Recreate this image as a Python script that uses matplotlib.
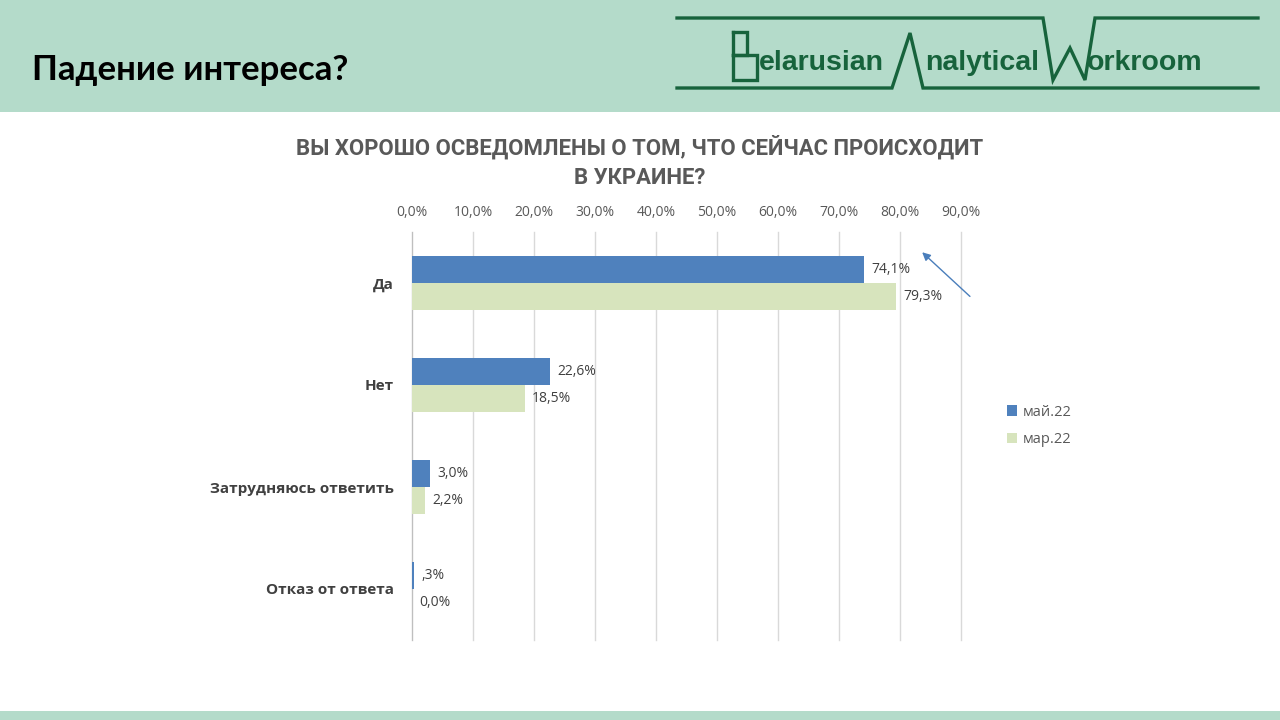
import matplotlib.pyplot as plt
from matplotlib.patches import Rectangle
from matplotlib.lines import Line2D
import numpy as np

categories = ['Да', 'Нет', 'Затрудняюсь ответить', 'Отказ от ответа']
may22 = [0.741, 0.226, 0.030, 0.003]
mar22 = [0.793, 0.185, 0.022, 0.000]
may_labels = ['74,1%', '22,6%', '3,0%', ',3%']
mar_labels = ['79,3%', '18,5%', '2,2%', '0,0%']
series_names = ['май.22', 'мар.22']
xticks = [0.0, 0.1, 0.2, 0.3, 0.4, 0.5, 0.6, 0.7, 0.8, 0.9]

blue = '#4F81BD'
green = '#D7E4BD'
gray = '#595959'
dark = '#404040'
band = '#B4DBCA'
logo = '#17633C'

fig = plt.figure(figsize=(12.8, 7.2), dpi=100)
fig.patch.set_facecolor('white')

# header band and bottom strip
fig.patches.append(Rectangle((0, 1 - 112 / 720), 1, 112 / 720, transform=fig.transFigure,
                             facecolor=band, edgecolor='none', zorder=0))
fig.patches.append(Rectangle((0, 0), 1, 9 / 720, transform=fig.transFigure,
                             facecolor=band, edgecolor='none', zorder=0))

fig.text(32 / 1280, 1 - 70 / 720, 'Падение интереса?', fontsize=25, fontweight='bold',
         family=['Lato', 'DejaVu Sans'], color='black', va='center', ha='left')

# logo lines (pixel coords -> figure fraction)
def px(xs, ys):
    return [x / 1280 for x in xs], [1 - y / 720 for y in ys]

def logo_line(xs, ys):
    fx, fy = px(xs, ys)
    fig.lines.append(Line2D(fx, fy, transform=fig.transFigure, color=logo, lw=2.4,
                            solid_joinstyle='miter'))

logo_line([677, 1043, 1053, 1070, 1085, 1095, 1258], [18, 18, 80, 48, 80, 18, 18])
logo_line([677, 892, 910, 923, 1258], [88, 88, 33, 88, 88])
# big B
logo_line([733, 747, 747, 733], [32, 32, 55, 55])
logo_line([733, 757, 757, 733, 733], [55, 55, 80, 80, 32])
for x0, word in [(759, 'elarusian'), (925, 'nalytical'), (1087, 'orkroom')]:
    fig.text(x0 / 1280, 1 - 70 / 720, word, fontsize=20.5, fontweight='bold',
             family='Liberation Sans', color=logo, va='baseline', ha='left')

# chart title
fig.text(640 / 1280, 1 - 162 / 720, 'ВЫ ХОРОШО ОСВЕДОМЛЕНЫ О ТОМ, ЧТО СЕЙЧАС ПРОИСХОДИТ\nВ УКРАИНЕ?',
         fontsize=15.9, fontweight='bold', family='Roboto', color=gray, ha='center', va='center',
         linespacing=1.45)

ax = fig.add_axes([412 / 1280, 1 - 640 / 720, (961 - 412) / 1280, 408 / 720])
y = np.arange(len(categories))
h = 0.265
ax.barh(y - h / 2, may22, height=h, color=blue, label=series_names[0], zorder=3)
ax.barh(y + h / 2, mar22, height=h, color=green, label=series_names[1], zorder=3)

for i in range(len(categories)):
    ax.text(may22[i] + 0.012, y[i] - h / 2, may_labels[i], fontsize=10, color=dark,
            va='center', ha='left', family='Open Sans')
    ax.text(mar22[i] + 0.012, y[i] + h / 2, mar_labels[i], fontsize=10, color=dark,
            va='center', ha='left', family='Open Sans')

ax.set_xlim(0, 0.9)
ax.set_ylim(3.5, -0.5)
ax.set_xticks(xticks)
ax.set_xticklabels([f'{v * 100:.1f}%'.replace('.', ',') for v in xticks],
                   fontsize=10, color=gray, family='Open Sans')
ax.xaxis.tick_top()
ax.tick_params(axis='x', length=0, pad=9)
ax.set_yticks(y)
ax.set_yticklabels(categories, fontsize=11, fontweight='bold', color=dark, family='Open Sans')
ax.tick_params(axis='y', length=0, pad=13)
ax.grid(axis='x', color='#D9D9D9', lw=1, zorder=0)
for gl in ax.get_xgridlines():
    gl.set_clip_on(False)
for s in ['top', 'right', 'bottom']:
    ax.spines[s].set_visible(False)
ax.spines['left'].set_color('#BFBFBF')
ax.set_facecolor('none')

ax.annotate('', xy=(0.833, -0.32), xytext=(0.918, 0.15), xycoords='data',
            annotation_clip=False,
            arrowprops=dict(arrowstyle='-|>', color='#4A7EBB', lw=1, mutation_scale=12))

leg = ax.legend(loc='center left', bbox_to_anchor=(1.06, 0.525), frameon=False,
                prop={'family': 'Open Sans', 'size': 10.5}, handlelength=0.7, handleheight=0.7,
                labelspacing=0.85, handletextpad=0.4)
for t in leg.get_texts():
    t.set_color(gray)

fig.savefig('out.png', dpi=100)
